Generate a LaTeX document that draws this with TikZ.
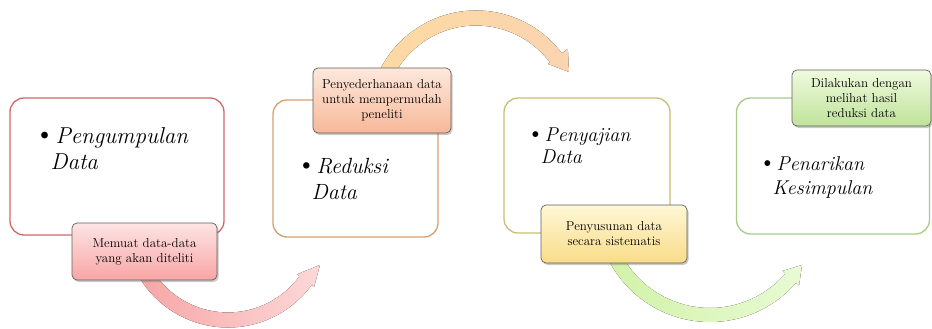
\documentclass[tikz,border=0pt]{standalone}
\usetikzlibrary{calc,shadows}
\usepackage{graphicx}
\definecolor{bone}{RGB}{208,104,106}
\definecolor{btwo}{RGB}{212,160,112}
\definecolor{bthree}{RGB}{200,192,112}
\definecolor{bfour}{RGB}{168,204,136}
\definecolor{lborder}{RGB}{96,96,96}
\definecolor{lonetop}{RGB}{253,228,228}
\definecolor{lonebot}{RGB}{249,165,165}
\definecolor{ltwotop}{RGB}{253,232,220}
\definecolor{ltwobot}{RGB}{247,184,152}
\definecolor{lthreetop}{RGB}{255,247,214}
\definecolor{lthreebot}{RGB}{248,220,136}
\definecolor{lfourtop}{RGB}{239,250,222}
\definecolor{lfourbot}{RGB}{191,227,154}
\definecolor{aonel}{RGB}{247,166,166}
\definecolor{aonem}{RGB}{249,182,182}
\definecolor{aoner}{RGB}{253,216,216}
\definecolor{atwol}{RGB}{252,218,162}
\definecolor{atwom}{RGB}{254,234,210}
\definecolor{atwor}{RGB}{251,212,176}
\definecolor{athreel}{RGB}{210,242,168}
\definecolor{athreem}{RGB}{216,245,178}
\definecolor{athreer}{RGB}{232,250,212}
% centre, start angle, end angle, outer r, inner r, head outer r, head inner r, tip
\newcommand{\ArrowShape}[8]{($(#1)+(#2:#4)$) arc[start angle=#2, end angle=#3, radius=#4] -- ($(#1)+(#3:#6)$) -- (#8) -- ($(#1)+(#3:#7)$) -- ($(#1)+(#3:#5)$) arc[start angle=#3, end angle=#2, radius=#5] -- cycle}
\newcommand{\bigbul}{\scalebox{1.3}{\textbullet}}
\begin{document}
\begin{tikzpicture}[x=1pt,y=1pt,yscale=-1,
  stagebox/.style={draw, line width=1.3pt, rounded corners=14pt, fill=white, inner sep=0pt, outer sep=0pt},
  lbl/.style={draw=lborder, line width=0.7pt, rounded corners=5pt, inner sep=0pt, outer sep=0pt,
    align=center, font=\fontsize{13}{15}\selectfont,
    drop shadow={shadow xshift=1.5pt, shadow yshift=-2pt, opacity=0.35, fill=black!60}},
  stagetext/.style={anchor=base west, inner sep=0pt, outer sep=0pt},
  arrowshadow/.style={fill=black, opacity=0.08, shift={(1,2.5)}}
]
\useasboundingbox (0,0) rectangle (932,329);

% arrow centres and tips
\coordinate (ca) at (228,224);
\coordinate (cb) at (476,118);
\coordinate (cc) at (710,208);
\coordinate (tipa) at (320,265);
\coordinate (tipb) at (569,72);
\coordinate (tipc) at (802,265);

% arrow 1 (pink)
\fill[arrowshadow] \ArrowShape{ca}{150}{36}{103.5}{88.5}{106.5}{85.5}{tipa};
\fill[left color=aonel, middle color=aonem, right color=aoner] \ArrowShape{ca}{150}{36}{103.5}{88.5}{106.5}{85.5}{tipa};

% arrow 2 (orange)
\fill[arrowshadow] \ArrowShape{cb}{200}{323}{107.5}{92.5}{115}{90}{tipb};
\fill[left color=atwol, middle color=atwom, right color=atwor] \ArrowShape{cb}{200}{323}{107.5}{92.5}{115}{90}{tipb};

% arrow 3 (green)
\fill[arrowshadow] \ArrowShape{cc}{155}{41}{114}{100}{118}{96}{tipc};
\fill[left color=athreel, middle color=athreem, right color=athreer] \ArrowShape{cc}{155}{41}{114}{100}{118}{96}{tipc};

% stage boxes
\node[stagebox, draw=bone, minimum width=214pt, minimum height=137pt] (box1) at (117,166.5) {};
\node[stagebox, draw=btwo, minimum width=165pt, minimum height=137pt] (box2) at (355.5,168.5) {};
\node[stagebox, draw=bthree, minimum width=166pt, minimum height=135pt] (box3) at (587,165.5) {};
\node[stagebox, draw=bfour, minimum width=193pt, minimum height=136pt] (box4) at (833,166) {};

% stage texts
\node[stagetext] (txt1) at (34,143) {\fontsize{23}{26}\selectfont\begin{tabular}[t]{@{}l@{\hspace{0pt}}l@{}}\bigbul & \textit{Pengumpulan}\\ & \hspace{-5pt}\textit{Data}\end{tabular}};
\node[stagetext] (txt2) at (296,173) {\fontsize{22}{26}\selectfont\begin{tabular}[t]{@{}l@{\hspace{0pt}}l@{}}\bigbul & \textit{Reduksi}\\ & \hspace{-5pt}\textit{Data}\end{tabular}};
\node[stagetext] (txt3) at (526,141) {\fontsize{20}{22}\selectfont\begin{tabular}[t]{@{}l@{\hspace{0pt}}l@{}}\bigbul & \textit{Penyajian}\\ & \hspace{-4pt}\textit{Data}\end{tabular}};
\node[stagetext] (txt4) at (758,170) {\fontsize{20}{24}\selectfont\begin{tabular}[t]{@{}l@{\hspace{0pt}}l@{}}\bigbul & \textit{Penarikan}\\ & \hspace{-4pt}\textit{Kesimpulan}\end{tabular}};

% labels
\node[lbl, top color=lonetop, bottom color=lonebot, minimum width=145pt, minimum height=57pt] (lab1) at (144.5,251.5) {Memuat data-data\\yang akan diteliti};
\node[lbl, top color=ltwotop, bottom color=ltwobot, minimum width=138pt, minimum height=65pt] (lab2) at (382,100.5) {Penyederhanaan data\\untuk mempermudah\\peneliti};
\node[lbl, top color=lthreetop, bottom color=lthreebot, minimum width=146pt, minimum height=58pt] (lab3) at (614,234) {Penyusunan data\\secara sistematis};
\node[lbl, top color=lfourtop, bottom color=lfourbot, minimum width=139pt, minimum height=56pt] (lab4) at (861.5,98) {Dilakukan dengan\\melihat hasil\\reduksi data};
\end{tikzpicture}
\end{document}
